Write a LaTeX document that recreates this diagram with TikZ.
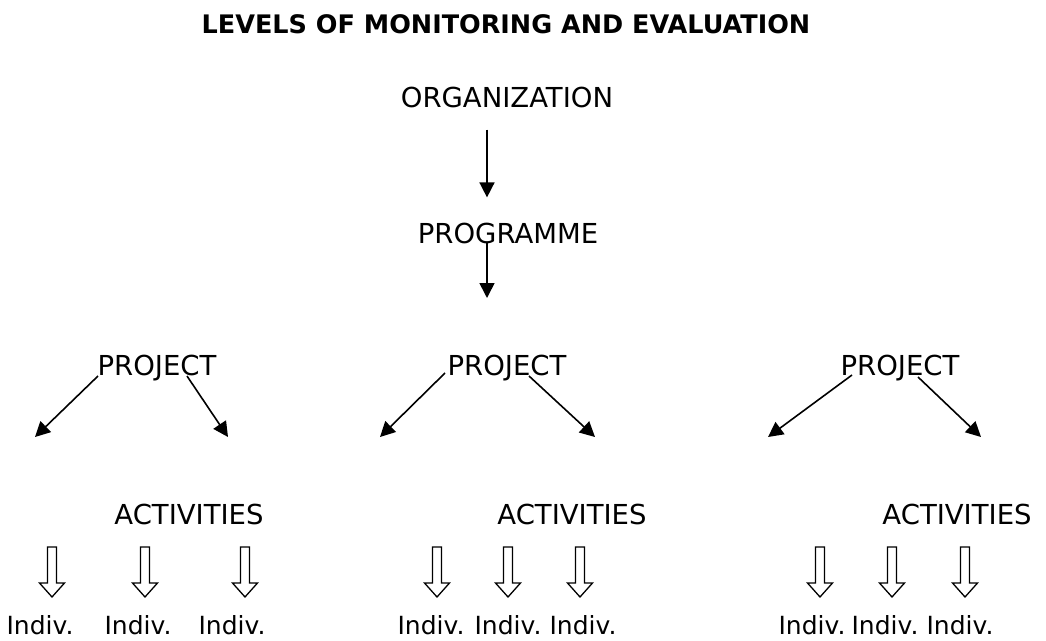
\documentclass[tikz,border=0pt]{standalone}
\usepackage{fontspec}
\setmainfont{DejaVu Sans}
\usetikzlibrary{arrows.meta}

\tikzset{
  ttl/.style={inner sep=0pt, anchor=base, font=\bfseries\fontsize{25.5}{30}\selectfont},
  lvl/.style={inner sep=0pt, anchor=base, font=\fontsize{27.5}{32}\selectfont},
  indiv/.style={inner sep=0pt, anchor=base, font=\fontsize{25}{30}\selectfont},
  conn/.style={line width=1.6pt, -{Triangle[length=15pt,width=15pt]}},
  hollow/.pic={
    \draw[line width=1.3pt, line join=miter]
      (-4.5,0) -- (-4.5,36) -- (-12.5,36) -- (0,50) -- (12.5,36) -- (4.5,36) -- (4.5,0) -- cycle;
  }
}

\begin{document}
\begin{tikzpicture}[x=1pt, y=-1pt] %Levels of M&E
            \useasboundingbox (0,0) rectangle (1046,640);

            \node[ttl] (title) at (506,33) {LEVELS OF MONITORING AND EVALUATION};

            \node[lvl] (org) at (507,107) {ORGANIZATION};
            \node[lvl] (prog) at (508,243) {PROGRAMME};

            \coordinate (trunk) at (487,0);
            \coordinate (progend) at (487,298);

            \draw[conn, shorten <=22pt, shorten >=25pt] (org.south -| trunk) -- (prog.north -| trunk);
            \draw[conn] ([yshift=1pt]prog.base -| trunk) -- (progend);

            % projects
            \node[lvl] (pjL) at (157,375) {PROJECT};
            \node[lvl] (pjM) at (507,375) {PROJECT};
            \node[lvl] (pjR) at (900,375) {PROJECT};

            \coordinate (L1) at (35,437);
            \coordinate (L2) at (228,437);
            \coordinate (M1) at (380,437);
            \coordinate (M2) at (595,437);
            \coordinate (R1) at (768,437);
            \coordinate (R2) at (981,437);

            \draw[conn] ([xshift=-59pt,yshift=-1pt]pjL.base) -- (L1);
            \draw[conn] ([xshift=30pt,yshift=-1pt]pjL.base) -- (L2);
            \draw[conn] ([xshift=-62pt,yshift=2pt]pjM.base) -- (M1);
            \draw[conn] ([xshift=22pt,yshift=-1pt]pjM.base) -- (M2);
            \draw[conn] ([xshift=-48pt]pjR.base) -- (R1);
            \draw[conn] ([xshift=18pt,yshift=-2pt]pjR.base) -- (R2);

            % activities
            \node[lvl] (acL) at (189,524) {ACTIVITIES};
            \node[lvl] (acM) at (572,524) {ACTIVITIES};
            \node[lvl] (acR) at (957,524) {ACTIVITIES};

            \pic at (52,547) {hollow};
            \pic at (145,547) {hollow};
            \pic at (245,547) {hollow};

            \pic at (437,547) {hollow};
            \pic at (508,547) {hollow};
            \pic at (580,547) {hollow};

            \pic at (820,547) {hollow};
            \pic at (892,547) {hollow};
            \pic at (965,547) {hollow};

            % individuals
            \node[indiv] (inL1) at (40,634) {Indiv.};
            \node[indiv] (inL2) at (138,634) {Indiv.};
            \node[indiv] (inL3) at (232,634) {Indiv.};

            \node[indiv] (inM1) at (431,634) {Indiv.};
            \node[indiv] (inM2) at (508,634) {Indiv.};
            \node[indiv] (inM3) at (583,634) {Indiv.};

            \node[indiv] (inR1) at (812,634) {Indiv.};
            \node[indiv] (inR2) at (885,634) {Indiv.};
            \node[indiv] (inR3) at (960,634) {Indiv.};
        \end{tikzpicture}
\end{document}
